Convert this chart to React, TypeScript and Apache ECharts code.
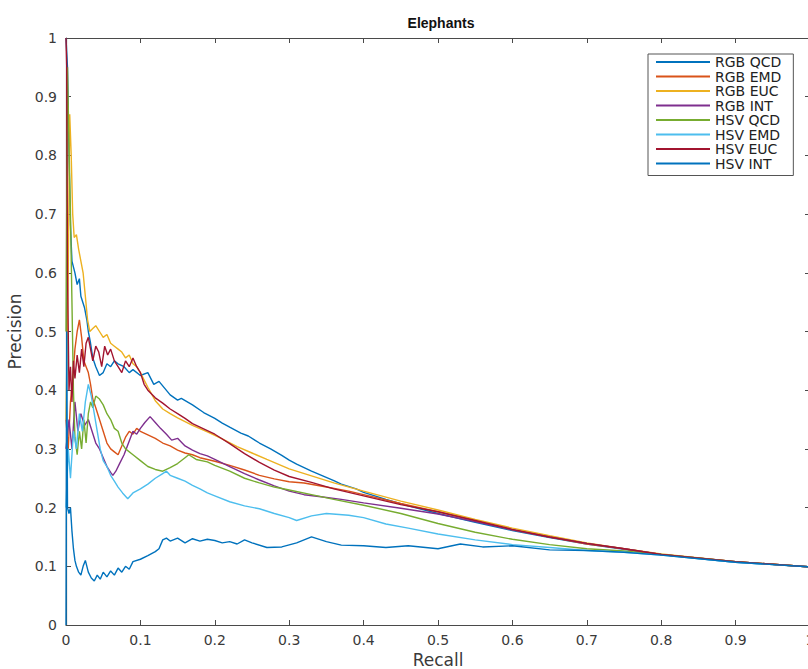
import React, { useEffect, useRef } from "react";
import * as echarts from "echarts";

const seriesNames = ["RGB QCD", "RGB EMD", "RGB EUC", "RGB INT", "HSV QCD", "HSV EMD", "HSV EUC", "HSV INT"];
const seriesColors = ["#0072BD", "#D95319", "#EDB120", "#7E2F8E", "#77AC30", "#4DBEEE", "#A2142F", "#0072BD"];
const xTicks = [0, 0.1, 0.2, 0.3, 0.4, 0.5, 0.6, 0.7, 0.8, 0.9, 1];
const yTicks = [0, 0.1, 0.2, 0.3, 0.4, 0.5, 0.6, 0.7, 0.8, 0.9, 1];

// [recall, precision]
const rgbQcd: [number, number][] = [
  [0, 1], [0.002, 0.95], [0.004, 0.8], [0.006, 0.68], [0.008, 0.62], [0.012, 0.6], [0.015, 0.58], [0.018, 0.59],
  [0.02, 0.56], [0.025, 0.54], [0.028, 0.52], [0.03, 0.5], [0.033, 0.48], [0.036, 0.455], [0.04, 0.44], [0.045, 0.425],
  [0.05, 0.43], [0.055, 0.445], [0.06, 0.44], [0.065, 0.45], [0.07, 0.445], [0.078, 0.44], [0.085, 0.43], [0.09, 0.435],
  [0.1, 0.425], [0.11, 0.43], [0.118, 0.41], [0.125, 0.415], [0.14, 0.392], [0.15, 0.383], [0.155, 0.386], [0.17, 0.375],
  [0.185, 0.362], [0.2, 0.352], [0.21, 0.344], [0.22, 0.337], [0.235, 0.327], [0.245, 0.322], [0.26, 0.31], [0.275, 0.3],
  [0.29, 0.289], [0.3, 0.281], [0.31, 0.274], [0.33, 0.262], [0.345, 0.254], [0.36, 0.246], [0.37, 0.24], [0.39, 0.232],
  [0.4, 0.226], [0.43, 0.214], [0.46, 0.203], [0.5, 0.19], [0.55, 0.175], [0.6, 0.161], [0.65, 0.149], [0.7, 0.138],
  [0.75, 0.129], [0.8, 0.12], [0.85, 0.113], [0.9, 0.107], [0.95, 0.103], [1, 0.099],
];
const rgbEmd: [number, number][] = [
  [0, 0.35], [0.003, 0.3], [0.006, 0.38], [0.009, 0.42], [0.012, 0.47], [0.015, 0.5], [0.018, 0.52], [0.021, 0.49],
  [0.024, 0.45], [0.027, 0.44], [0.03, 0.43], [0.033, 0.41], [0.036, 0.385], [0.04, 0.37], [0.045, 0.35], [0.05, 0.33],
  [0.055, 0.31], [0.06, 0.3], [0.065, 0.295], [0.07, 0.29], [0.075, 0.305], [0.08, 0.32], [0.085, 0.33], [0.09, 0.325],
  [0.095, 0.335], [0.1, 0.33], [0.11, 0.324], [0.12, 0.318], [0.13, 0.31], [0.14, 0.305], [0.15, 0.298], [0.16, 0.293],
  [0.17, 0.29], [0.18, 0.285], [0.19, 0.282], [0.2, 0.279], [0.22, 0.272], [0.24, 0.264], [0.26, 0.255], [0.28, 0.249],
  [0.3, 0.244], [0.32, 0.242], [0.35, 0.235], [0.38, 0.228], [0.4, 0.222], [0.45, 0.207], [0.5, 0.193], [0.55, 0.178],
  [0.6, 0.162], [0.65, 0.15], [0.7, 0.138], [0.75, 0.13], [0.8, 0.12], [0.9, 0.108], [1, 0.099],
];
const rgbEuc: [number, number][] = [
  [0, 0.35], [0.003, 0.6], [0.005, 0.87], [0.007, 0.8], [0.009, 0.7], [0.011, 0.66], [0.014, 0.665], [0.017, 0.64],
  [0.02, 0.62], [0.023, 0.6], [0.026, 0.56], [0.029, 0.52], [0.032, 0.5], [0.036, 0.505], [0.04, 0.51], [0.045, 0.5],
  [0.05, 0.49], [0.055, 0.495], [0.06, 0.48], [0.065, 0.475], [0.07, 0.47], [0.075, 0.465], [0.08, 0.455], [0.085, 0.46],
  [0.09, 0.445], [0.095, 0.44], [0.1, 0.43], [0.11, 0.405], [0.12, 0.382], [0.13, 0.368], [0.14, 0.36], [0.15, 0.353],
  [0.17, 0.34], [0.19, 0.329], [0.21, 0.317], [0.23, 0.304], [0.25, 0.293], [0.27, 0.282], [0.3, 0.266], [0.33, 0.254],
  [0.36, 0.242], [0.4, 0.228], [0.45, 0.211], [0.5, 0.196], [0.55, 0.18], [0.6, 0.165], [0.65, 0.152], [0.7, 0.14],
  [0.75, 0.13], [0.8, 0.121], [0.9, 0.108], [1, 0.099],
];
const rgbInt: [number, number][] = [
  [0, 0.3], [0.004, 0.35], [0.008, 0.3], [0.012, 0.38], [0.016, 0.33], [0.02, 0.36], [0.025, 0.34], [0.03, 0.35],
  [0.035, 0.33], [0.04, 0.31], [0.045, 0.3], [0.05, 0.285], [0.055, 0.27], [0.06, 0.26], [0.063, 0.255], [0.067, 0.262],
  [0.072, 0.275], [0.078, 0.29], [0.084, 0.31], [0.09, 0.33], [0.095, 0.325], [0.1, 0.335], [0.106, 0.345], [0.113, 0.355],
  [0.12, 0.345], [0.127, 0.335], [0.135, 0.325], [0.142, 0.315], [0.15, 0.318], [0.16, 0.305], [0.17, 0.298], [0.18, 0.292],
  [0.19, 0.288], [0.2, 0.282], [0.22, 0.27], [0.24, 0.258], [0.26, 0.247], [0.28, 0.237], [0.3, 0.228], [0.32, 0.222],
  [0.34, 0.219], [0.37, 0.214], [0.4, 0.208], [0.45, 0.199], [0.5, 0.189], [0.55, 0.176], [0.6, 0.162], [0.65, 0.15],
  [0.7, 0.139], [0.75, 0.13], [0.8, 0.12], [0.9, 0.108], [1, 0.099],
];
const hsvQcd: [number, number][] = [
  [0, 0.5], [0.002, 0.95], [0.004, 0.82], [0.006, 0.7], [0.008, 0.55], [0.01, 0.4], [0.012, 0.32], [0.015, 0.29],
  [0.018, 0.33], [0.021, 0.3], [0.024, 0.35], [0.027, 0.31], [0.03, 0.36], [0.033, 0.38], [0.036, 0.37], [0.04, 0.39],
  [0.045, 0.385], [0.05, 0.375], [0.055, 0.36], [0.06, 0.35], [0.065, 0.335], [0.07, 0.33], [0.075, 0.31], [0.08, 0.3],
  [0.09, 0.29], [0.1, 0.28], [0.11, 0.27], [0.12, 0.265], [0.13, 0.262], [0.14, 0.268], [0.15, 0.275], [0.16, 0.285],
  [0.165, 0.29], [0.175, 0.282], [0.19, 0.278], [0.2, 0.272], [0.22, 0.262], [0.24, 0.25], [0.26, 0.242], [0.28, 0.235],
  [0.3, 0.23], [0.33, 0.222], [0.36, 0.214], [0.4, 0.204], [0.45, 0.19], [0.5, 0.173], [0.55, 0.158], [0.6, 0.146],
  [0.65, 0.137], [0.7, 0.13], [0.75, 0.126], [0.8, 0.12], [0.9, 0.108], [1, 0.099],
];
const hsvEmd: [number, number][] = [
  [0, 0.2], [0.003, 0.3], [0.006, 0.25], [0.01, 0.33], [0.014, 0.3], [0.018, 0.36], [0.022, 0.33], [0.026, 0.38],
  [0.03, 0.41], [0.034, 0.39], [0.038, 0.36], [0.042, 0.33], [0.046, 0.3], [0.05, 0.28], [0.055, 0.27], [0.06, 0.255],
  [0.065, 0.245], [0.07, 0.235], [0.076, 0.225], [0.083, 0.215], [0.09, 0.225], [0.1, 0.232], [0.11, 0.24], [0.12, 0.25],
  [0.13, 0.258], [0.135, 0.262], [0.14, 0.255], [0.15, 0.25], [0.16, 0.245], [0.17, 0.238], [0.18, 0.232], [0.19, 0.225],
  [0.2, 0.22], [0.22, 0.21], [0.24, 0.203], [0.26, 0.198], [0.28, 0.19], [0.3, 0.183], [0.31, 0.178], [0.33, 0.186],
  [0.35, 0.19], [0.38, 0.187], [0.4, 0.183], [0.43, 0.172], [0.46, 0.165], [0.5, 0.155], [0.55, 0.145], [0.6, 0.137],
  [0.65, 0.132], [0.7, 0.127], [0.75, 0.124], [0.8, 0.119], [0.9, 0.107], [1, 0.099],
];
const hsvEuc: [number, number][] = [
  [0, 1], [0.001, 0.95], [0.002, 0.6], [0.004, 0.4], [0.006, 0.44], [0.008, 0.38], [0.01, 0.45], [0.012, 0.42],
  [0.015, 0.46], [0.018, 0.43], [0.021, 0.47], [0.024, 0.44], [0.027, 0.48], [0.03, 0.49], [0.033, 0.47], [0.036, 0.45],
  [0.04, 0.475], [0.044, 0.465], [0.048, 0.44], [0.052, 0.475], [0.056, 0.46], [0.06, 0.47], [0.065, 0.45], [0.07, 0.44],
  [0.075, 0.43], [0.08, 0.45], [0.085, 0.44], [0.09, 0.455], [0.095, 0.44], [0.1, 0.43], [0.105, 0.41], [0.11, 0.4],
  [0.12, 0.387], [0.13, 0.378], [0.14, 0.368], [0.15, 0.36], [0.16, 0.352], [0.17, 0.343], [0.18, 0.337], [0.2, 0.325],
  [0.22, 0.309], [0.24, 0.292], [0.26, 0.277], [0.28, 0.264], [0.3, 0.253], [0.33, 0.243], [0.36, 0.232], [0.4, 0.22],
  [0.45, 0.205], [0.5, 0.193], [0.55, 0.178], [0.6, 0.163], [0.65, 0.15], [0.7, 0.139], [0.75, 0.13], [0.8, 0.12],
  [0.9, 0.108], [1, 0.099],
];
const hsvInt: [number, number][] = [
  [0, 0], [0.001, 0.5], [0.002, 0.2], [0.004, 0.19], [0.006, 0.2], [0.008, 0.16], [0.01, 0.13], [0.012, 0.11],
  [0.014, 0.1], [0.017, 0.09], [0.02, 0.085], [0.023, 0.1], [0.026, 0.11], [0.03, 0.09], [0.034, 0.08], [0.038, 0.075],
  [0.042, 0.085], [0.046, 0.078], [0.05, 0.09], [0.055, 0.082], [0.06, 0.092], [0.065, 0.085], [0.07, 0.097], [0.075, 0.09],
  [0.08, 0.1], [0.085, 0.095], [0.09, 0.108], [0.1, 0.112], [0.11, 0.118], [0.12, 0.125], [0.125, 0.13], [0.13, 0.145],
  [0.135, 0.148], [0.14, 0.143], [0.15, 0.148], [0.16, 0.14], [0.17, 0.147], [0.18, 0.143], [0.19, 0.146], [0.2, 0.144],
  [0.21, 0.14], [0.22, 0.142], [0.23, 0.138], [0.24, 0.145], [0.25, 0.14], [0.27, 0.132], [0.29, 0.133], [0.31, 0.14],
  [0.33, 0.15], [0.35, 0.142], [0.37, 0.136], [0.4, 0.135], [0.43, 0.132], [0.46, 0.135], [0.5, 0.13], [0.53, 0.138],
  [0.56, 0.133], [0.6, 0.135], [0.65, 0.128], [0.7, 0.127], [0.75, 0.124], [0.8, 0.119], [0.9, 0.107], [1, 0.099],
];

const allData = [rgbQcd, rgbEmd, rgbEuc, rgbInt, hsvQcd, hsvEmd, hsvEuc, hsvInt];

const FONT = "'DejaVu Sans', 'Liberation Sans', Arial, sans-serif";
const TITLE_FONT = "'Liberation Sans', Arial, Helvetica, sans-serif";
const AXIS_COLOR = "#4a4a4a";
const TEXT_COLOR = "#3a3a3a";

function fmt(v: number) {
  return String(Math.round(v * 10) / 10);
}

export default function App() {
  const ref = useRef<HTMLDivElement>(null);
  useEffect(() => {
    if (!ref.current) return;
    const chart = echarts.init(ref.current, undefined, { renderer: "svg" });
    const tickCommon = { inside: true, length: 5, lineStyle: { color: AXIS_COLOR, width: 1 } };
    const lineCommon = { show: true, onZero: false, lineStyle: { color: AXIS_COLOR, width: 1.2 } };
    chart.setOption({
      animation: false,
      backgroundColor: "#ffffff",
      title: {
        text: "Elephants",
        left: 436,
        top: 11,
        textAlign: "center",
        textStyle: { fontFamily: TITLE_FONT, fontSize: 14, fontWeight: "bold", color: "#111" },
      },
      legend: {
        data: seriesNames,
        orient: "vertical",
        left: 648,
        top: 54,
        itemWidth: 54,
        itemHeight: 14,
        itemGap: 0.5,
        icon: "path://M0,0 L54,0 L54,2 L0,2 Z",
        padding: [1, 12, 5, 8],
        borderColor: "#555",
        borderWidth: 1,
        borderRadius: 0,
        backgroundColor: "#fff",
        textStyle: { fontFamily: FONT, fontSize: 14, color: "#222" },
      },
      grid: { left: 66, top: 38, width: 744, height: 587, outerBoundsMode: "none", containLabel: false },
      xAxis: [
        {
          type: "value",
          min: 0,
          max: 1,
          interval: 0.1,
          position: "bottom",
          axisLine: lineCommon,
          axisTick: tickCommon,
          splitLine: { show: false },
          axisLabel: { fontFamily: FONT, fontSize: 14, color: TEXT_COLOR, margin: 8, formatter: fmt },
          name: "Recall",
          nameLocation: "middle",
          nameGap: 22,
          nameTextStyle: { fontFamily: FONT, fontSize: 17, color: TEXT_COLOR },
          data: xTicks,
        },
        {
          type: "value",
          min: 0,
          max: 1,
          interval: 0.1,
          position: "top",
          axisLine: lineCommon,
          axisTick: tickCommon,
          splitLine: { show: false },
          axisLabel: { show: false },
        },
      ],
      yAxis: [
        {
          type: "value",
          min: 0,
          max: 1,
          interval: 0.1,
          position: "left",
          axisLine: lineCommon,
          axisTick: tickCommon,
          splitLine: { show: false },
          axisLabel: { fontFamily: FONT, fontSize: 14, color: TEXT_COLOR, margin: 9, formatter: fmt },
          name: "Precision",
          nameLocation: "middle",
          nameGap: 40,
          nameTextStyle: { fontFamily: FONT, fontSize: 17, color: TEXT_COLOR },
          data: yTicks,
        },
        {
          type: "value",
          min: 0,
          max: 1,
          interval: 0.1,
          position: "right",
          axisLine: lineCommon,
          axisTick: tickCommon,
          splitLine: { show: false },
          axisLabel: { show: false },
        },
      ],
      series: allData.map((d, i) => ({
        name: seriesNames[i],
        type: "line",
        data: d,
        xAxisIndex: 0,
        yAxisIndex: 0,
        showSymbol: false,
        symbol: "none",
        color: seriesColors[i],
        lineStyle: { width: 1.4, color: seriesColors[i] },
        emphasis: { disabled: true },
      })),
    });
    return () => chart.dispose();
  }, []);
  return (
    <div
      ref={ref}
      style={{ position: "fixed", left: 0, top: 0, width: 808, height: 669, background: "#fff" }}
    />
  );
}
